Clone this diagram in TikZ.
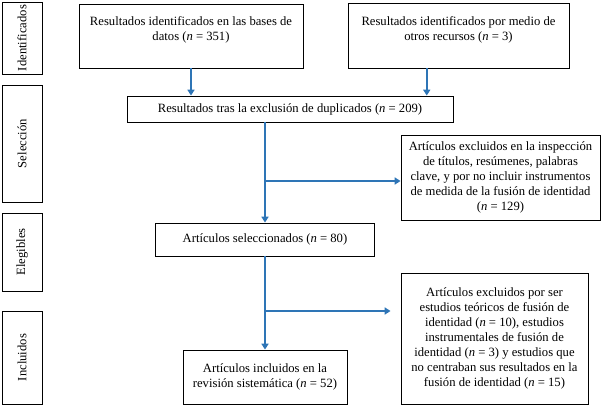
\documentclass[tikz,border=0pt]{standalone}
\usepackage{fontspec}
\setmainfont{Liberation Serif}
\usetikzlibrary{arrows.meta,calc}

\definecolor{azul}{RGB}{46,117,182}

\begin{document}
\begin{tikzpicture}[
    x=0.03cm, y=-0.03cm,
    font=\fontsize{10.8}{12.7}\selectfont,
    >={Triangle[length=5pt,width=6pt]},
    caja/.style={
        draw,
        line width=0.8pt,
        align=center,
        inner sep=0pt
    },
    etapa/.style={
        draw,
        line width=0.8pt,
        rotate=90,
        minimum height=1.2cm,
        inner sep=0pt
    },
    flecha/.style={->, draw=azul, line width=2.1pt}
]
    \useasboundingbox (0,0) rectangle (602,407);

    \node[etapa, minimum width=2.16cm] (identif) at (22,38) {Identificados};
    \node[etapa, minimum width=3.51cm] (selecc) at (22,143.5) {Selección};
    \node[etapa, minimum width=2.34cm] (elegib) at (22,252) {Elegibles};
    \node[etapa, minimum width=2.79cm] (inclu) at (22,357.5) {Incluidos};

    \node[caja, minimum width=6.72cm, minimum height=1.92cm, text depth=12pt] (bases) at (191,36)
        {Resultados identificados en las bases de\\datos (\textit{n} = 351)};
    \node[caja, minimum width=6.63cm, minimum height=1.95cm, text depth=12pt] (otros) at (458.5,35.5)
        {Resultados identificados por medio de\\otros recursos (\textit{n} = 3)};
    \node[caja, minimum width=9.78cm, minimum height=0.78cm] (duplic) at (290,109)
        {Resultados tras la exclusión de duplicados (\textit{n} = 209)};
    \node[caja, minimum width=5.97cm, minimum height=2.55cm] (excl1) at (500.5,177.5)
        {Artículos excluidos en la inspección\\de títulos, resúmenes, palabras\\clave, y por no incluir instrumentos\\de medida de la fusión de identidad\\(\textit{n} = 129)};
    \node[caja, minimum width=6.57cm, minimum height=0.99cm] (seleccion) at (265,239.5)
        {Artículos seleccionados (\textit{n} = 80)};
    \node[caja, minimum width=5.61cm, minimum height=3.93cm] (excl2) at (494.5,338.5)
        {Artículos excluidos por ser\\estudios teóricos de fusión de\\identidad (\textit{n} = 10), estudios\\instrumentales de fusión de\\identidad (\textit{n} = 3) y estudios que\\no centraban sus resultados en la\\fusión de identidad (\textit{n} = 15)};
    \node[caja, minimum width=4.92cm, minimum height=1.62cm] (incluidos) at (265,377)
        {Artículos incluidos en la\\revisión sistemática (\textit{n} = 52)};

    \coordinate (salida) at ($(otros.south west)!0.357!(otros.south east)$);
    \coordinate (rama1) at (seleccion.north |- 0,181);
    \coordinate (rama2) at (seleccion.south |- 0,311);

    \draw[flecha] (bases.south) -- (bases.south |- duplic.north);
    \draw[flecha] (salida) -- (salida |- duplic.north);
    \draw[flecha] (seleccion.north |- duplic.south) -- (seleccion.north);
    \draw[flecha] (rama1) -- (rama1 -| excl1.west);
    \draw[flecha] (seleccion.south) -- (incluidos.north);
    \draw[flecha, shorten >=0.3cm] (rama2) -- (rama2 -| excl2.west);
\end{tikzpicture}
\end{document}
